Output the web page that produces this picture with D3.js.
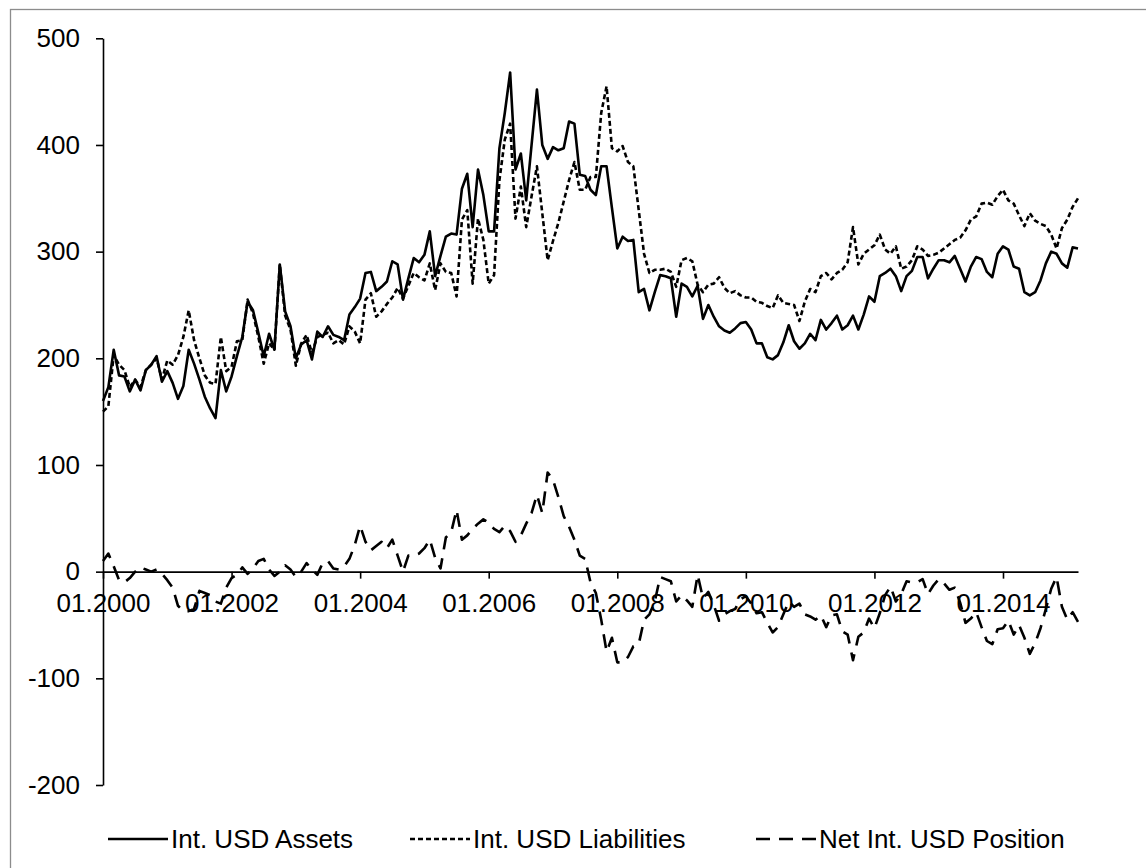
<!DOCTYPE html>
<html>
  <head>
    <meta charset="utf-8" />
    <title> Int. USD Position </title>
    <script src="https://d3js.org/d3.v7.min.js"></script>
    <style>
      body { margin: 0; background: white; }
      text { font-family: "Liberation Sans", Arial, sans-serif; }
    </style>
  </head>

  <body>
    <svg id="chart" width=1146 height=868></svg>

    <script>

    // monthly values, index 0 = 01.2000
    var assets = [
      160,173,208,184,183,169,180,170,189,194,
      202,178,188,177,162,174,208,195,180,164,
      153,144,189,169,183,202,220,253,245,224,
      202,223,208,288,244,230,200,213,217,199,
      225,220,230,222,220,217,241,248,256,280,
      281,263,267,272,291,288,255,275,294,290,
      297,319,277,296,314,317,316,359,373,323,
      377,353,319,319,397,430,468,377,392,348,
      400,452,400,387,398,395,397,422,420,372,
      371,358,353,380,380,341,303,314,310,311,
      262,265,245,262,278,277,275,239,270,267,
      258,268,237,250,239,230,226,224,228,233,
      234,227,214,214,201,199,203,215,231,216,
      209,214,223,217,236,227,233,240,227,231,
      240,227,241,258,253,277,280,284,277,263,
      277,282,295,295,275,284,292,292,290,296,
      284,272,286,295,293,281,276,298,305,302,
      286,284,262,259,262,273,289,300,298,289,
      285,304,303
    ];

    var liabilities = [
      150,155,203,194,189,173,180,173,189,194,
      200,180,198,194,203,220,245,217,200,184,
      177,176,220,188,192,216,217,255,242,220,
      195,214,208,288,240,227,193,214,222,205,
      220,222,224,214,217,213,230,225,214,255,
      261,239,244,251,257,266,256,268,280,276,
      273,289,264,289,281,280,258,330,339,270,
      331,311,270,278,367,405,420,331,361,323,
      352,380,336,292,310,327,347,367,384,358,
      358,370,370,430,455,397,394,399,384,380,
      339,298,280,283,283,284,281,267,292,294,
      291,269,262,269,270,276,266,261,263,259,
      257,257,253,252,249,247,259,252,251,250,
      235,253,265,262,277,280,274,280,283,290,
      323,288,298,302,306,316,302,298,305,284,
      286,292,305,302,296,297,299,303,307,311,
      313,320,330,333,345,346,344,352,358,348,
      345,334,324,336,329,326,324,316,303,322,
      330,342,350
    ];

    var netPosition = [
      10,17,5,-8,-10,-6,0,4,2,0,
      2,-2,-8,-15,-32,-37,-37,-35,-18,-20,
      -22,-28,-30,-15,-6,-3,4,-2,3,10,
      12,2,-4,0,6,2,-5,0,8,2,
      -3,8,10,3,2,5,12,25,43,28,
      20,24,28,22,30,15,0,15,15,17,
      22,30,13,3,32,37,58,30,34,40,
      45,49,46,40,37,43,38,28,34,45,
      55,72,55,93,86,70,52,42,30,15,
      12,-10,-20,-45,-75,-62,-85,-85,-80,-70,
      -68,-45,-40,-28,-5,-7,-9,-28,-22,-27,
      -33,-3,-25,-19,-31,-46,-40,-37,-35,-26,
      -23,-30,-39,-38,-48,-57,-52,-40,-28,-33,
      -30,-40,-42,-45,-41,-52,-41,-40,-56,-59,
      -83,-61,-57,-44,-53,-39,-22,-14,-28,-21,
      -9,-10,-10,-7,-21,-13,-7,-11,-17,-15,
      -29,-48,-44,-38,-52,-65,-68,-54,-53,-46,
      -59,-50,-62,-77,-67,-53,-35,-16,-5,-33,
      -45,-38,-47
    ];

    var xTickMonths = [0, 24, 48, 72, 96, 120, 144, 168];
    var xTickLabels = ["01.2000", "01.2002", "01.2004", "01.2006",
                       "01.2008", "01.2010", "01.2012", "01.2014"];
    var yTicks = [-200, -100, 0, 100, 200, 300, 400, 500];

    var seriesNames = ["Int. USD Assets", "Int. USD Liabilities", "Net Int. USD Position"];

    var svg = d3.select("#chart");

    // outer chart frame (only top/left edges fall inside the picture)
    svg.append("rect")
      .attr("x", 10.5)
      .attr("y", 9.5)
      .attr("width", 1200)
      .attr("height", 900)
      .attr("fill", "white")
      .attr("stroke", "#8c8c8c")
      .attr("stroke-width", 1.3);

    var x = d3.scaleLinear()
      .domain([0, assets.length - 1])
      .range([103, 1078]);

    var y = d3.scaleLinear()
      .domain([-200, 500])
      .range([785, 38.3]);

    var yAxis = svg.append("g")
      .attr("transform", "translate(103,0)")
      .call(d3.axisLeft(y)
        .tickValues(yTicks)
        .tickFormat(function(d) { return String(d); })
        .tickSizeInner(7)
        .tickSizeOuter(0)
        .tickPadding(16));

    var xAxis = svg.append("g")
      .attr("transform", "translate(0," + y(0) + ")")
      .call(d3.axisBottom(x)
        .tickValues(xTickMonths)
        .tickFormat(function(d, i) { return xTickLabels[i]; })
        .tickSizeInner(7)
        .tickSizeOuter(0)
        .tickPadding(15));

    [yAxis, xAxis].forEach(function(ax) {
      ax.select(".domain").attr("stroke", "black").attr("stroke-width", 1.6);
      ax.selectAll(".tick line").attr("stroke", "black").attr("stroke-width", 1.6);
      ax.selectAll(".tick text")
        .attr("fill", "black")
        .style("font-size", "26px")
        .style("font-family", "'Liberation Sans', Arial, sans-serif");
    });

    var line = d3.line()
      .x(function(d, i) { return x(i); })
      .y(function(d) { return y(d); });

    var styles = [
      { data: assets, dash: null },
      { data: liabilities, dash: "5,3" },
      { data: netPosition, dash: "14,9" }
    ];

    styles.forEach(function(s) {
      svg.append("path")
        .datum(s.data)
        .attr("fill", "none")
        .attr("stroke", "black")
        .attr("stroke-width", 2.6)
        .attr("stroke-linejoin", "round")
        .attr("stroke-dasharray", s.dash)
        .attr("d", line);
    });

    // legend
    var legendX = [108, 410, 756];
    var legend = svg.append("g").attr("transform", "translate(0,839)");

    styles.forEach(function(s, i) {
      legend.append("line")
        .attr("x1", legendX[i])
        .attr("x2", legendX[i] + 60)
        .attr("y1", 0)
        .attr("y2", 0)
        .attr("stroke", "black")
        .attr("stroke-width", 2.6)
        .attr("stroke-dasharray", s.dash);

      legend.append("text")
        .attr("x", legendX[i] + 63)
        .attr("y", 0)
        .attr("dy", "0.35em")
        .style("font-size", "26px")
        .text(seriesNames[i]);
    });

    </script>
  </body>
</html>
